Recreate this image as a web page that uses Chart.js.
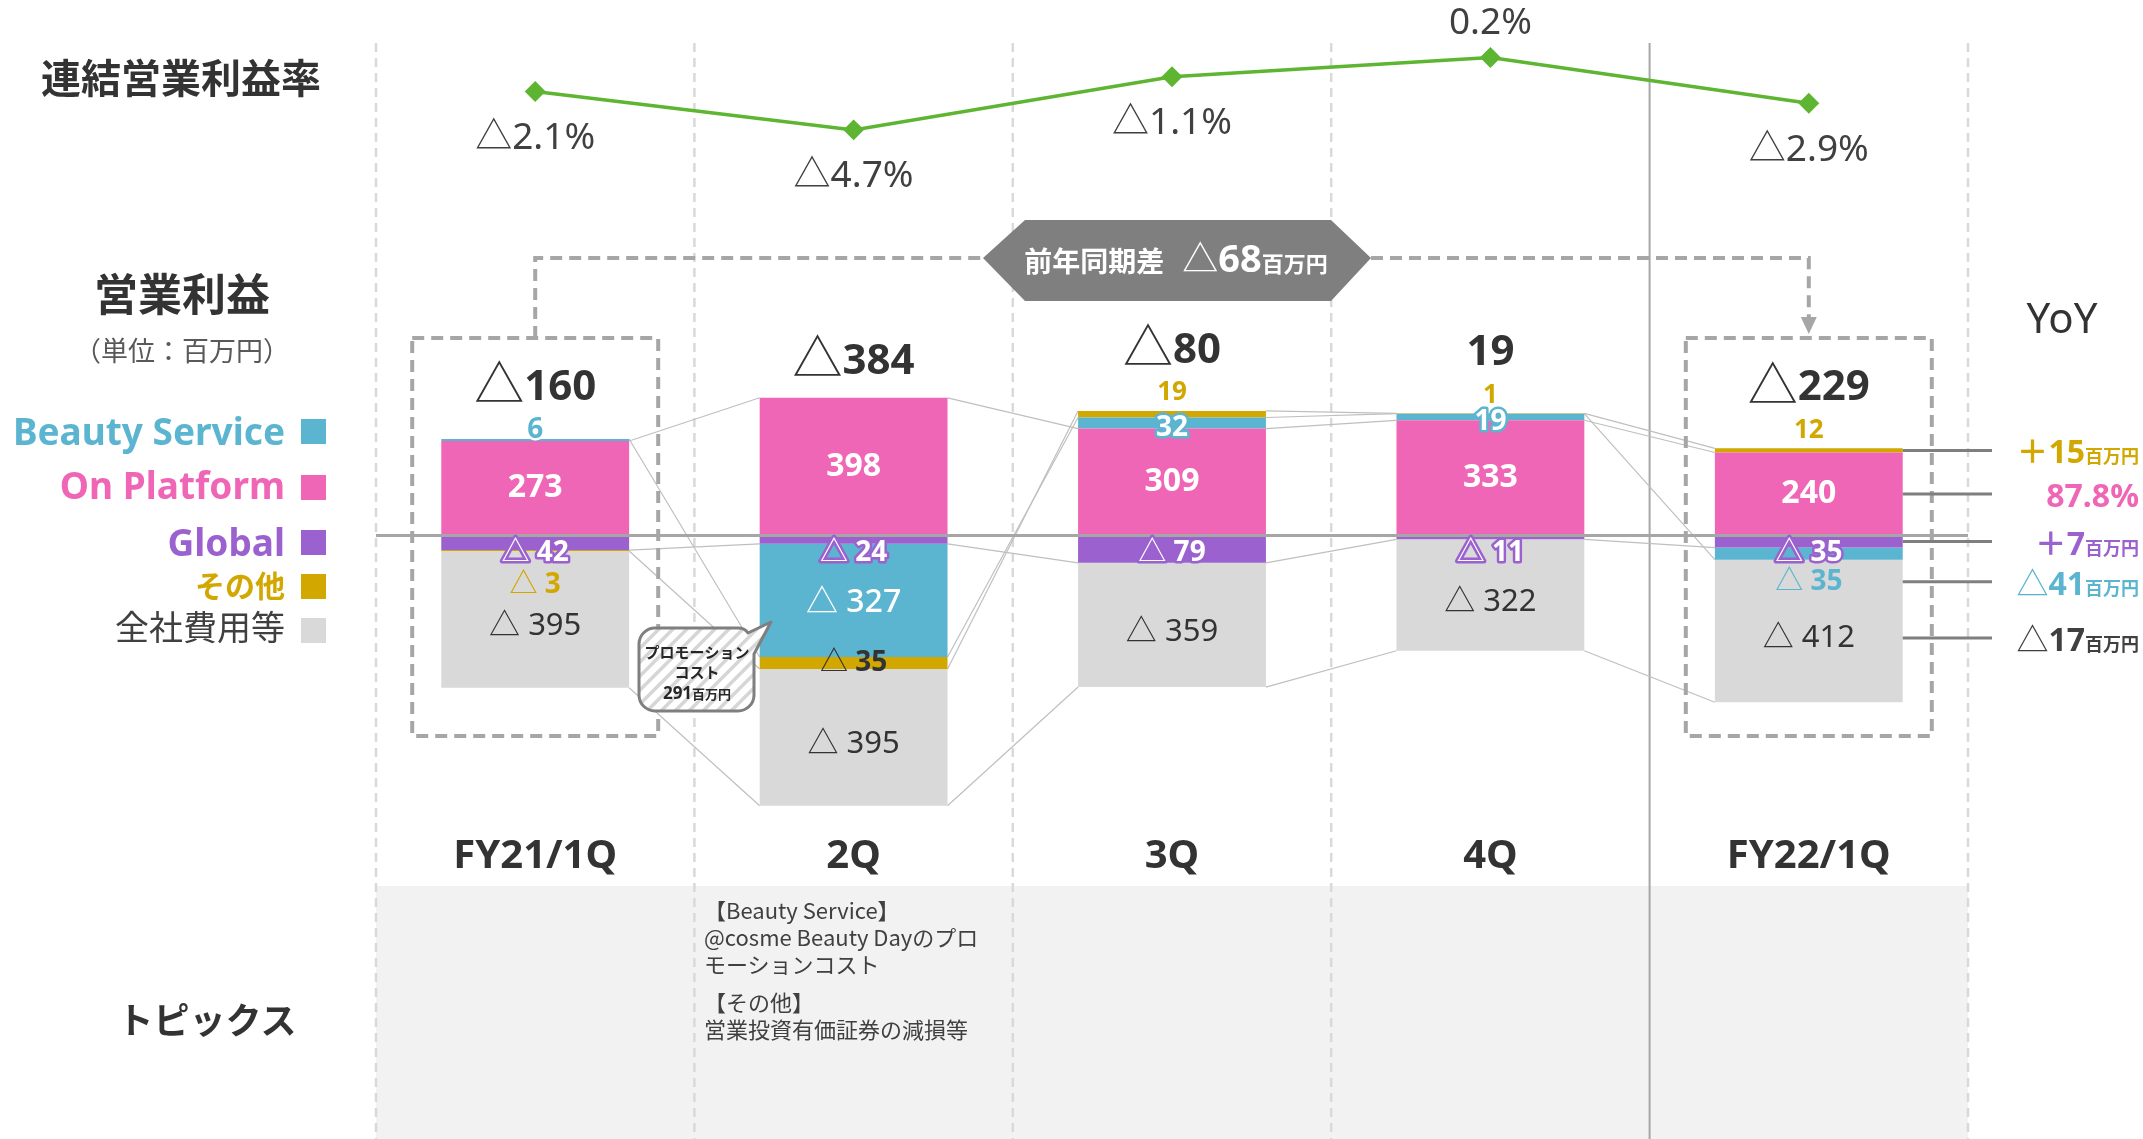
<!DOCTYPE html>
<html lang="ja">
<head>
<meta charset="utf-8">
<title>営業利益推移</title>
<script src="https://cdn.jsdelivr.net/npm/chart.js@4.4.1/dist/chart.umd.min.js"></script>
<style>
  html, body { margin: 0; padding: 0; background: #fff; }
  #wrap { position: relative; width: 2143px; height: 1139px; overflow: hidden; font-family: "Noto Sans", "Noto Sans CJK JP", sans-serif; color: #333; }
  #c { position: absolute; left: 0; top: 0; }
  .t { position: absolute; white-space: nowrap; line-height: 1; transform: translate(-50%, -50%); }
  .r { position: absolute; white-space: nowrap; line-height: 1; transform: translateY(-50%); right: 1858px; font-weight: 700; }
  .sq { position: absolute; left: 301px; width: 25px; height: 25px; }
  .topic { position: absolute; left: 704px; font-size: 22px; line-height: 27px; color: #404040; white-space: nowrap; font-family: "Noto Sans CJK JP", sans-serif; }
</style>
</head>
<body>
<div id="wrap">
  <canvas id="c" width="2143" height="1139"></canvas>

  <div class="t" style="left:181px;top:78px;font-size:40px;font-weight:700;">連結営業利益率</div>
  <div class="t" style="left:182px;top:294px;font-size:44px;font-weight:700;">営業利益</div>
  <div class="t" style="left:182px;top:350px;font-size:27px;color:#595959;">（単位：百万円）</div>

  <div class="r" style="top:430px;font-size:37px;color:#5BB5D0;">Beauty Service</div>
  <div class="sq" style="top:419px;background:#5BB5D0;"></div>
  <div class="r" style="top:484px;font-size:37px;color:#F066B6;">On Platform</div>
  <div class="sq" style="top:475px;background:#F066B6;"></div>
  <div class="r" style="top:541px;font-size:37px;color:#9B61CE;">Global</div>
  <div class="sq" style="top:530px;background:#9B61CE;"></div>
  <div class="r" style="top:586px;font-size:30px;color:#D1A700;">その他</div>
  <div class="sq" style="top:574px;background:#D1A700;"></div>
  <div class="r" style="top:627px;font-size:34px;font-weight:400;color:#404040;">全社費用等</div>
  <div class="sq" style="top:618px;background:#D9D9D9;"></div>

  <div class="t" style="left:207px;top:1021px;font-size:36px;font-weight:700;">トピックス</div>
  <div class="topic" style="top:896px;">【Beauty Service】<br>@cosme Beauty Dayのプロ<br>モーションコスト</div>
  <div class="topic" style="top:988px;">【その他】<br>営業投資有価証券の減損等</div>

  <div class="t" style="left:2062px;top:317px;font-size:42px;">YoY</div>
</div>

<script>
// 四半期ごとの営業利益（百万円）と連結営業利益率（%）
const categories = ["FY21/1Q", "2Q", "3Q", "4Q", "FY22/1Q"];
const marginRate = [-2.1, -4.7, -1.1, 0.2, -2.9];
const onPlatform = [273, 398, 309, 333, 240];
const globalBiz = [-42, -24, -79, -11, -35];
const beautyService = [6, -327, 32, 19, -35];
const others = [-3, -35, 19, 1, 12];
const corporate = [-395, -395, -359, -322, -412];
const totals = [-160, -384, -80, 19, -229];
const yoyTotal = -68;
// YoY rows, top to bottom: その他, On Platform, Global, Beauty Service, 全社費用等
const yoyValues = ["＋15", "87.8%", "＋7", "△41", "△17"];
const yoyUnits = ["百万円", "", "百万円", "百万円", "百万円"];
const promoNote = ["プロモーション", "コスト", "291"];

const C = { op: "#F066B6", gl: "#9B61CE", bs: "#5BB5D0", ot: "#D1A700", corp: "#D9D9D9", line: "#5DB531", ink: "#333333", guide: "#A6A6A6" };
const FF = '"Noto Sans", "Noto Sans CJK JP", sans-serif';
const font = (w, s) => `${w} ${s}px ${FF}`;

// where the two value scales sit on the page
const CANVAS_H = 1139;
const ZERO_Y = 535.5, PX_PER_M = 0.346;
const RATE0_Y = 60.4, PX_PER_PCT = 14.78;
const BAND_TOP = 886, GRID_TOP = 43, CAT_Y = 857;
const BOX_TOP = 338, BOX_BOTTOM = 736, BOX_HALF = 123, LINK_Y = 258;

function drawRuns(ctx, parts, x, y, align) {
  let w = 0;
  parts.forEach((p) => {
    if (p.gap) { p.w = p.gap; } else { ctx.font = p.f; p.w = ctx.measureText(p.t).width; }
    w += p.w;
  });
  let cx = align === "right" ? x - w : align === "center" ? x - w / 2 : x;
  ctx.textAlign = "left";
  parts.forEach((p) => {
    if (!p.gap) {
      ctx.font = p.f;
      if (p.s) { ctx.strokeStyle = p.s; ctx.lineWidth = p.sw || 5; ctx.lineJoin = "round"; ctx.strokeText(p.t, cx, y); }
      ctx.fillStyle = p.c;
      ctx.fillText(p.t, cx, y);
    }
    cx += p.w;
  });
}

function valueParts(v, size, weight, color, sep, stroke, triScale = 1) {
  const parts = [];
  if (v < 0) parts.push({ t: "△" + sep, f: font(400, Math.round(size * triScale)), c: color, s: stroke });
  parts.push({ t: String(Math.abs(v)), f: font(weight, size), c: color, s: stroke });
  return parts;
}

const overlay = {
  id: "overlay",
  beforeDatasetsDraw(chart) {
    const { ctx, chartArea: a, scales: { x } } = chart;
    const step = (a.right - a.left) / categories.length;
    ctx.save();
    // topics band
    ctx.fillStyle = "#F2F2F2";
    ctx.fillRect(a.left, BAND_TOP, a.right - a.left, CANVAS_H - BAND_TOP);
    // column separators
    for (let i = 0; i <= categories.length; i++) {
      const px = a.left + step * i;
      ctx.beginPath();
      if (i === categories.length - 1) { ctx.setLineDash([]); ctx.strokeStyle = C.guide; ctx.lineWidth = 2; }
      else { ctx.setLineDash([9, 6]); ctx.strokeStyle = "#D9D9D9"; ctx.lineWidth = 2.5; }
      ctx.moveTo(px, GRID_TOP); ctx.lineTo(px, CANVAS_H); ctx.stroke();
    }
    // thin links between matching segment ends
    ctx.setLineDash([]);
    ctx.strokeStyle = "#BFBFBF"; ctx.lineWidth = 1.2;
    for (let d = 0; d < 5; d++) {
      const els = chart.getDatasetMeta(d).data;
      for (let i = 0; i < els.length - 1; i++) {
        const p = els[i], q = els[i + 1];
        ctx.beginPath();
        ctx.moveTo(p.x + p.width / 2, p.y);
        ctx.lineTo(q.x - q.width / 2, q.y);
        ctx.stroke();
      }
    }
    // dashed boxes on the compared quarters + link
    const x0 = x.getPixelForValue(0), x4 = x.getPixelForValue(categories.length - 1);
    ctx.strokeStyle = C.guide; ctx.lineWidth = 4; ctx.setLineDash([12, 7]);
    [x0, x4].forEach((cx) => ctx.strokeRect(cx - BOX_HALF, BOX_TOP, BOX_HALF * 2, BOX_BOTTOM - BOX_TOP));
    const hx0 = 983, hx1 = 1025, hx2 = 1331, hx3 = 1371, hy0 = 220, hy1 = 301;
    ctx.beginPath();
    ctx.moveTo(x0, BOX_TOP); ctx.lineTo(x0, LINK_Y); ctx.lineTo(hx0, LINK_Y);
    ctx.moveTo(hx3, LINK_Y); ctx.lineTo(x4, LINK_Y); ctx.lineTo(x4, BOX_TOP - 20);
    ctx.stroke();
    ctx.setLineDash([]);
    ctx.fillStyle = C.guide;
    ctx.beginPath(); ctx.moveTo(x4 - 8, BOX_TOP - 21); ctx.lineTo(x4 + 8, BOX_TOP - 21); ctx.lineTo(x4, BOX_TOP - 4); ctx.closePath(); ctx.fill();
    // hexagon callout
    ctx.fillStyle = "#7F7F7F";
    ctx.beginPath();
    ctx.moveTo(hx0, LINK_Y); ctx.lineTo(hx1, hy0); ctx.lineTo(hx2, hy0); ctx.lineTo(hx3, LINK_Y); ctx.lineTo(hx2, hy1); ctx.lineTo(hx1, hy1);
    ctx.closePath(); ctx.fill();
    ctx.textBaseline = "alphabetic";
    drawRuns(ctx, [
      { t: "前年同期差", f: font(700, 28), c: "#fff" }, { gap: 18 },
      { t: yoyTotal < 0 ? "△" : "＋", f: font(400, 36), c: "#fff" },
      { t: String(Math.abs(yoyTotal)), f: font(700, 38), c: "#fff" },
      { t: "百万円", f: font(700, 22), c: "#fff" },
    ], 1176, 272, "center");
    ctx.restore();
  },

  afterDatasetsDraw(chart) {
    const { ctx, chartArea: a, scales: { x, y } } = chart;
    const metas = [0, 1, 2, 3, 4].map((d) => chart.getDatasetMeta(d).data);
    const series = [onPlatform, globalBiz, beautyService, others, corporate];
    ctx.save();
    // zero line
    ctx.strokeStyle = C.guide; ctx.lineWidth = 3;
    ctx.beginPath(); ctx.moveTo(a.left, y.getPixelForValue(0)); ctx.lineTo(a.right, y.getPixelForValue(0)); ctx.stroke();

    ctx.textBaseline = "middle";
    const segs = [];
    categories.forEach((cat, i) => {
      const seg = (d) => {
        const e = metas[d][i];
        const top = Math.min(e.y, e.base), bot = Math.max(e.y, e.base);
        return { top, bot, h: bot - top, mid: (top + bot) / 2, x: e.x, w: e.width };
      };
      const op = seg(0), gl = seg(1), bs = seg(2), ot = seg(3), co = seg(4);
      const cx = op.x;
      const posSum = series.reduce((s, arr) => s + Math.max(0, arr[i]), 0);
      const stackTop = y.getPixelForValue(posSum);
      let aboveY = null, bsLabelY = bs.mid, coLabelY = co.mid + 7;

      drawRuns(ctx, valueParts(onPlatform[i], 32, 700, "#fff", " "), cx, op.mid, "center");
      drawRuns(ctx, valueParts(globalBiz[i], 28, 700, "#fff", " ", C.gl), cx, Math.max(gl.mid, y.getPixelForValue(0) + 18), "center");

      const b = beautyService[i];
      if (bs.h >= 20) { bsLabelY = bs.mid + 3; drawRuns(ctx, valueParts(b, 32, 500, "#fff", " "), cx, bsLabelY, "center"); }
      else if (b >= 0 && bs.h < 5) { aboveY = bs.top - 9; drawRuns(ctx, valueParts(b, 28, 700, C.bs, " ", "#fff"), cx, aboveY, "center"); }
      else if (b >= 0) drawRuns(ctx, valueParts(b, 28, 700, "#fff", " ", C.bs), cx, bs.mid + 5, "center");
      else { bsLabelY = bs.bot + 22; drawRuns(ctx, valueParts(b, 28, 700, C.bs, " "), cx, bsLabelY, "center"); }

      const o = others[i];
      if (o >= 0) { aboveY = stackTop - 18; drawRuns(ctx, valueParts(o, 26, 700, C.ot, ""), cx, aboveY, "center"); }
      else if (ot.h >= 10) drawRuns(ctx, valueParts(o, 28, 700, C.ink, " "), cx, ot.mid, "center");
      else drawRuns(ctx, valueParts(o, 28, 700, C.ot, " "), cx, ot.bot + 34, "center");

      drawRuns(ctx, valueParts(corporate[i], 31, 400, C.ink, " "), cx, coLabelY, "center");

      const ty = aboveY !== null ? aboveY - 42 : stackTop - 36;
      drawRuns(ctx, valueParts(totals[i], 42, 700, C.ink, "", undefined, 1.2), cx, ty, "center");

      ctx.font = font(700, 40); ctx.fillStyle = C.ink; ctx.textAlign = "center";
      ctx.fillText(cat, x.getPixelForValue(i), CAT_Y);

      segs.push({ op, gl, bs, ot, co, bsLabelY, coLabelY });
    });

    // margin-rate labels
    chart.getDatasetMeta(5).data.forEach((p, i) => {
      const v = marginRate[i];
      const txt = (v < 0 ? "△" : "") + Math.abs(v).toFixed(1) + "%";
      ctx.font = font(400, 37); ctx.fillStyle = "#404040"; ctx.textAlign = "center";
      ctx.fillText(txt, p.x, p.y + (v >= 0 ? -34 : 47));
    });

    // promotion cost callout on 2Q Beauty Service
    const pc = document.createElement("canvas"); pc.width = pc.height = 14;
    const pg = pc.getContext("2d");
    pg.fillStyle = "#fff"; pg.fillRect(0, 0, 14, 14);
    pg.strokeStyle = "#D6D6D6"; pg.lineWidth = 3.5;
    pg.beginPath();
    pg.moveTo(0, 14); pg.lineTo(14, 0); pg.moveTo(-7, 7); pg.lineTo(7, -7); pg.moveTo(7, 21); pg.lineTo(21, 7);
    pg.stroke();
    ctx.beginPath();
    ctx.moveTo(655, 628); ctx.lineTo(738, 628);
    ctx.quadraticCurveTo(745, 628, 748, 633);
    ctx.lineTo(771, 622); ctx.lineTo(754, 654); ctx.lineTo(754, 695);
    ctx.arcTo(754, 711, 738, 711, 16); ctx.lineTo(655, 711);
    ctx.arcTo(639, 711, 639, 695, 16); ctx.lineTo(639, 644);
    ctx.arcTo(639, 628, 655, 628, 16); ctx.closePath();
    ctx.fillStyle = ctx.createPattern(pc, "repeat"); ctx.fill();
    ctx.strokeStyle = "#7F7F7F"; ctx.lineWidth = 3; ctx.stroke();
    ctx.textBaseline = "alphabetic";
    drawRuns(ctx, [{ t: promoNote[0], f: font(700, 15), c: "#262626" }], 697, 658, "center");
    drawRuns(ctx, [{ t: promoNote[1], f: font(700, 15), c: "#262626" }], 697, 678, "center");
    drawRuns(ctx, [{ t: promoNote[2], f: font(700, 17), c: "#262626" }, { t: "百万円", f: font(700, 13), c: "#262626" }], 697, 699, "center");

    // YoY leaders and values for the latest quarter
    const last = segs[segs.length - 1];
    const rowsY = [last.ot.mid, last.op.mid, last.gl.mid, last.bsLabelY, last.coLabelY];
    const rowColors = [C.ot, C.op, C.gl, C.bs, "#404040"];
    const x1 = last.op.x + last.op.w / 2;
    ctx.strokeStyle = "#7F7F7F"; ctx.lineWidth = 3;
    rowsY.forEach((ry, r) => {
      ctx.beginPath(); ctx.moveTo(x1, ry); ctx.lineTo(1992, ry); ctx.stroke();
      const val = yoyValues[r];
      const parts = [];
      if (val.startsWith("△")) {
        parts.push({ t: "△", f: font(400, 32), c: rowColors[r] });
        parts.push({ t: val.slice(1), f: font(700, 32), c: rowColors[r] });
      } else parts.push({ t: val, f: font(700, 32), c: rowColors[r] });
      if (yoyUnits[r]) parts.push({ t: yoyUnits[r], f: font(700, 18), c: rowColors[r] });
      drawRuns(ctx, parts, 2139, ry + 13, "right");
    });
    ctx.restore();
  },
};

const bar = (label, data, color) => ({
  type: "bar", label, data, backgroundColor: color, stack: "op",
  barPercentage: 0.59, categoryPercentage: 1, borderWidth: 0,
});

new Chart(document.getElementById("c"), {
  type: "bar",
  data: {
    labels: categories,
    datasets: [
      bar("On Platform", onPlatform, C.op),
      bar("Global", globalBiz, C.gl),
      bar("Beauty Service", beautyService, C.bs),
      bar("その他", others, C.ot),
      bar("全社費用等", corporate, C.corp),
      {
        type: "line", label: "連結営業利益率", data: marginRate, yAxisID: "y2",
        borderColor: C.line, borderWidth: 3.5, tension: 0, clip: false,
        pointStyle: "rectRot", pointRadius: 8, pointBackgroundColor: C.line, pointBorderColor: C.line,
      },
    ],
  },
  options: {
    responsive: false, animation: false, devicePixelRatio: 1,
    layout: { autoPadding: false, padding: { left: 376, right: 175, top: 0, bottom: 0 } },
    plugins: { legend: { display: false }, tooltip: { enabled: false } },
    scales: {
      x: { display: false, stacked: true },
      y: { display: false, stacked: true, max: ZERO_Y / PX_PER_M, min: -(CANVAS_H - ZERO_Y) / PX_PER_M },
      y2: { type: "linear", display: false, max: RATE0_Y / PX_PER_PCT, min: -(CANVAS_H - RATE0_Y) / PX_PER_PCT },
    },
  },
  plugins: [overlay],
});
</script>
</body>
</html>
